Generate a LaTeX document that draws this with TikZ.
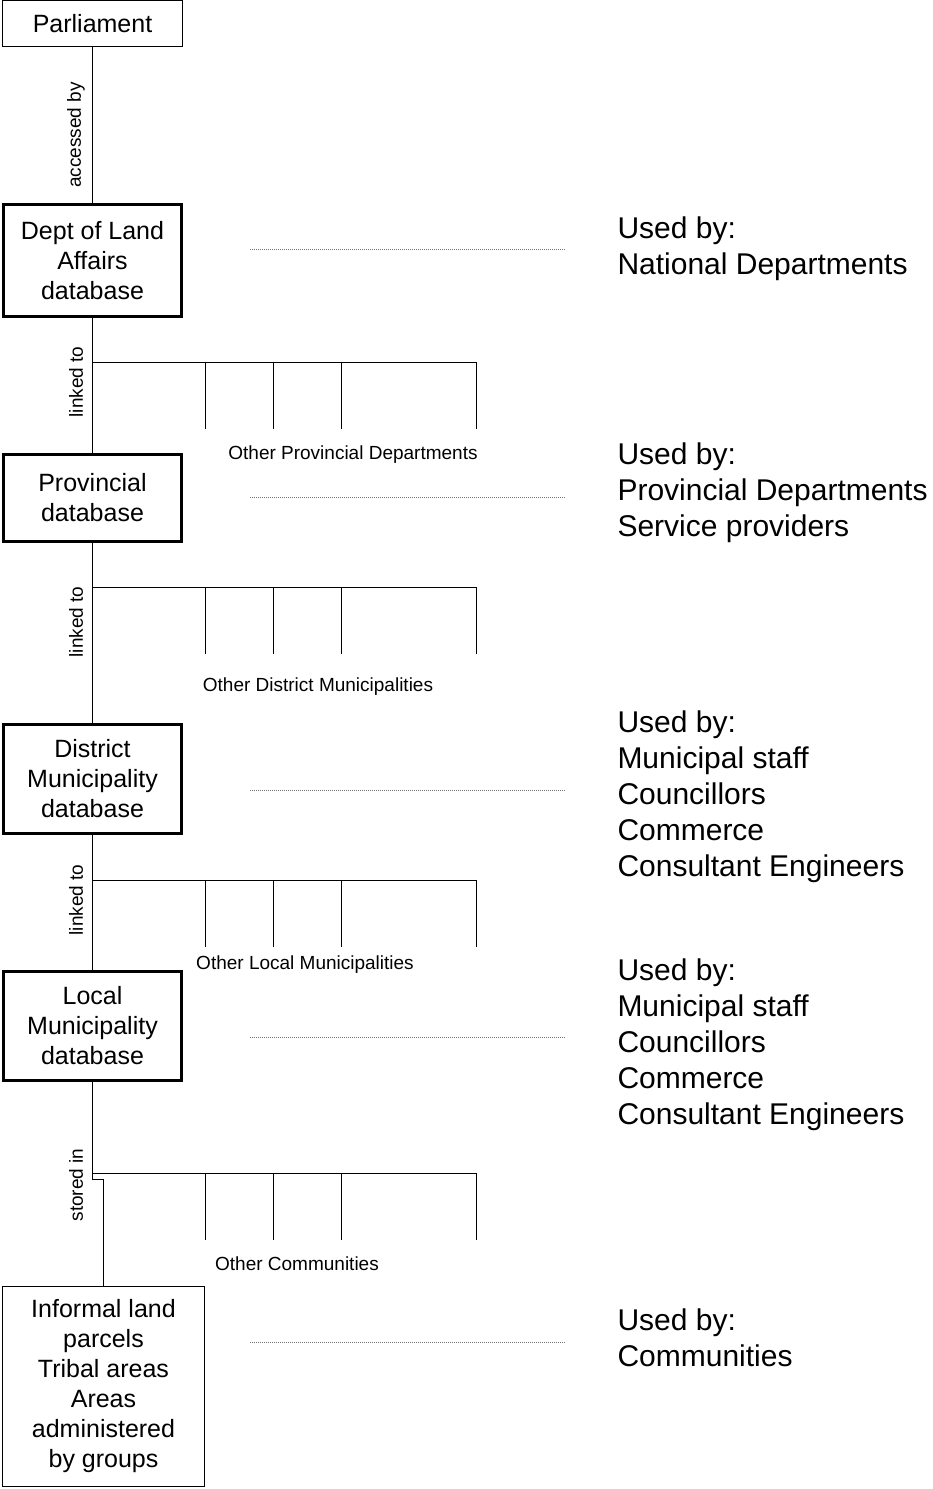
\documentclass[tikz,border=0pt]{standalone}
\usepackage{fontspec}
\setmainfont{Liberation Sans}
\usetikzlibrary{calc}
\tikzset{
	thinbox/.style={draw, line width=1pt, inner sep=0pt, align=center, font=\fontsize{25}{30}\selectfont},
	thickbox/.style={thinbox, line width=3pt},
	usedby/.style={anchor=west, align=left, inner sep=0pt, font=\fontsize{30}{36}\selectfont},
	smalllabel/.style={inner sep=0pt, font=\fontsize{19}{23}\selectfont},
	rotlabel/.style={smalllabel, rotate=90},
	dotline/.style={line width=1pt, black!55, densely dotted},
}
\begin{document}
\begin{tikzpicture}[x=1pt, y=-1pt, line width=1pt]
		%%%%% START %%%%%
		\useasboundingbox (0, 0) rectangle (932, 1489);
		
		\node[thinbox, minimum width=180, minimum height=46] (parl) at (92.5, 23.5) {Parliament};
		\node[thickbox, minimum width=178, minimum height=112] (dept) at (92.5, 260.5) {Dept of Land\\Affairs\\database};
		\node[thickbox, minimum width=178, minimum height=87] (prov) at (92.5, 498) {Provincial\\database};
		\node[thickbox, minimum width=178, minimum height=109] (dist) at (92.5, 779) {District\\Municipality\\database};
		\node[thickbox, minimum width=178, minimum height=109] (local) at (92.5, 1026) {Local\\Municipality\\database};
		\node[thinbox, minimum width=202, minimum height=200] (info) at (103.5, 1386.5) {Informal land\\parcels\\Tribal areas\\Areas\\administered\\by groups};
		
		% trunk
		\draw (parl.south) -- (dept.north);
		\draw (dept.south) -- (prov.north);
		\draw (prov.south) -- (dist.north);
		\draw (dist.south) -- (local.north);
		\draw (local.south) -- ++(0, 97) -| (info.north);
		
		\node[rotlabel] (acc) at (76, 135) {accessed by};
		\node[rotlabel] (lk1) at (76, 382) {linked to};
		\node[rotlabel] (lk2) at (76, 622) {linked to};
		\node[rotlabel] (lk3) at (76, 900) {linked to};
		\node[rotlabel] (sto) at (76, 1185) {stored in};
		
		% branches
		\foreach \y/\nm in {362/b1, 587/b2, 880/b3, 1173/b4}{
			\coordinate (\nm) at (92, \y);
			\draw (\nm) -- ++(384, 0);
			\foreach \x in {205, 273, 341, 476}
				\draw (\x, \y) -- ++(0, 67);
		}
		
		\node[smalllabel] (oth1) at (353, 455) {Other Provincial Departments};
		\node[smalllabel] (oth2) at (318, 687) {Other District Municipalities};
		\node[smalllabel] (oth3) at (305, 965) {Other Local Municipalities};
		\node[smalllabel] (oth4) at (297, 1264) {Other Communities};
		
		% users
		\node[usedby] (u1) at (617, 249) {Used by:\\National Departments};
		\node[usedby] (u2) at (617, 493) {Used by:\\Provincial Departments\\Service providers};
		\node[usedby] (u3) at (617, 797) {Used by:\\Municipal staff\\Councillors\\Commerce\\Consultant Engineers};
		\node[usedby] (u4) at (617, 1045) {Used by:\\Municipal staff\\Councillors\\Commerce\\Consultant Engineers};
		\node[usedby] (u5) at (617, 1338) {Used by:\\Communities};
		
		\foreach \y/\nm in {249/d1, 497/d2, 790/d3, 1037/d4, 1342/d5}{
			\coordinate (\nm a) at (250, \y);
			\coordinate (\nm b) at (565, \y);
			\draw[dotline] (\nm a) -- (\nm b);
		}
		
		%%%%% END %%%%%
	\end{tikzpicture}
\end{document}
